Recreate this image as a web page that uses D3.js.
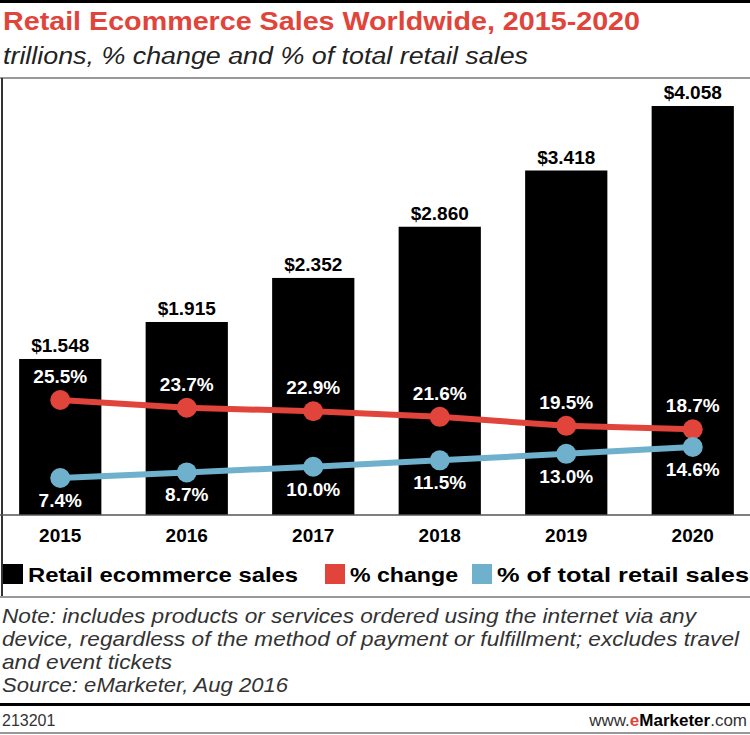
<!DOCTYPE html>
<html><head><meta charset="utf-8">
<script src="https://cdn.jsdelivr.net/npm/d3@7"></script>
<style>body{margin:0;background:#fff}</style>
</head><body>
<script>
const years = ['2015', '2016', '2017', '2018', '2019', '2020'];
const sales = [1.548, 1.915, 2.352, 2.860, 3.418, 4.058];
const pctChange = [25.5, 23.7, 22.9, 21.6, 19.5, 18.7];
const pctTotal = [7.4, 8.7, 10.0, 11.5, 13.0, 14.6];

const w = 750, h = 735;
const svg = d3.select('body').append('svg').attr('width', w).attr('height', h);
const bold = 'Liberation Sans, Arial, sans-serif';
const narrow = 'Liberation Sans, Arial, sans-serif';

// frame lines
svg.append('rect').attr('x', 0).attr('y', 0).attr('width', w).attr('height', 3).attr('fill', '#000');
svg.append('line').attr('x1', 0).attr('x2', w).attr('y1', 78).attr('y2', 78).attr('stroke', '#999').attr('stroke-width', 2);
svg.append('line').attr('x1', 2).attr('x2', 2).attr('y1', 78).attr('y2', 597).attr('stroke', '#333').attr('stroke-width', 2);
svg.append('line').attr('x1', 0).attr('x2', w).attr('y1', 597).attr('y2', 597).attr('stroke', '#999').attr('stroke-width', 2);
svg.append('rect').attr('x', 0).attr('y', 703).attr('width', w).attr('height', 3).attr('fill', '#000');
svg.append('line').attr('x1', 0).attr('x2', w).attr('y1', 733).attr('y2', 733).attr('stroke', '#999').attr('stroke-width', 2);

svg.append('text').attr('x', 3).attr('y', 30).text('Retail Ecommerce Sales Worldwide, 2015-2020')
    .attr('textLength', 637).attr('lengthAdjust', 'spacingAndGlyphs')
    .attr('fill', '#e0443a').style('font', 'bold 25px ' + bold);
svg.append('text').attr('x', 3).attr('y', 64).text('trillions, % change and % of total retail sales')
    .attr('textLength', 525).attr('lengthAdjust', 'spacingAndGlyphs')
    .attr('fill', '#222').style('font', 'italic 23px ' + narrow);

const base = 515;
const x = d3.scaleBand().domain(years).range([-3, 756]).paddingInner(0.35).paddingOuter(0.175);
const y = d3.scaleLinear().domain([0, 4.058]).range([base, 106]);
const yp = d3.scaleLinear().domain([7.4, 25.5]).range([478, 400]);
const cx = d => x(d) + x.bandwidth() / 2;

svg.selectAll('rect.bar').data(years).enter().append('rect').attr('class', 'bar')
    .attr('x', d => x(d)).attr('width', x.bandwidth())
    .attr('y', (d, i) => y(sales[i])).attr('height', (d, i) => base - y(sales[i])).attr('fill', '#000');

svg.selectAll('text.val').data(years).enter().append('text')
    .attr('x', cx).attr('y', (d, i) => y(sales[i]) - 7).attr('text-anchor', 'middle')
    .text((d, i) => '$' + sales[i].toFixed(3)).style('font', 'bold 19px ' + bold);

svg.append('line').attr('x1', 0).attr('x2', w).attr('y1', base).attr('y2', base).attr('stroke', '#555').attr('stroke-width', 1.5);

svg.selectAll('text.yr').data(years).enter().append('text')
    .attr('x', cx).attr('y', 542).attr('text-anchor', 'middle').text(d => d)
    .style('font', 'bold 19px ' + bold);

function series(vals, color, dy) {
    const line = d3.line().x((d, i) => cx(years[i])).y(d => yp(d));
    svg.append('path').datum(vals).attr('d', line).attr('fill', 'none').attr('stroke', color).attr('stroke-width', 6);
    svg.selectAll(null).data(vals).enter().append('circle')
        .attr('cx', (d, i) => cx(years[i])).attr('cy', d => yp(d)).attr('r', 10).attr('fill', color);
    svg.selectAll(null).data(vals).enter().append('text')
        .attr('x', (d, i) => cx(years[i])).attr('y', d => yp(d) + dy).attr('text-anchor', 'middle')
        .attr('fill', '#fff').text(d => d.toFixed(1) + '%').style('font', 'bold 19px ' + bold);
}
series(pctChange, '#e0443a', -17);
series(pctTotal, '#6fb0cc', 29);

const legend = [
    { label: 'Retail ecommerce sales', color: '#000', x: 3, len: 270 },
    { label: '% change', color: '#e0443a', x: 325, len: 108 },
    { label: '% of total retail sales', color: '#6fb0cc', x: 472, len: 252 }
];
legend.forEach(l => {
    svg.append('rect').attr('x', l.x).attr('y', 564).attr('width', 20).attr('height', 20).attr('fill', l.color);
    svg.append('text').attr('x', l.x + 25).attr('y', 582).text(l.label)
        .attr('textLength', l.len).attr('lengthAdjust', 'spacingAndGlyphs')
        .style('font', 'bold 21px ' + bold);
});

const notes = ['Note: includes products or services ordered using the internet via any',
    'device, regardless of the method of payment or fulfillment; excludes travel',
    'and event tickets', 'Source: eMarketer, Aug 2016'];
const noteLen = [694, 737, 170, 286];
notes.forEach((t, i) => svg.append('text').attr('x', 2).attr('y', 623 + i * 23).text(t)
    .attr('textLength', noteLen[i]).attr('lengthAdjust', 'spacingAndGlyphs')
    .attr('fill', '#333').style('font', 'italic 21px ' + narrow));

svg.append('text').attr('x', 2).attr('y', 726).text('213201').attr('fill', '#333').style('font', '16px ' + narrow);
const brand = svg.append('text').attr('x', 747).attr('y', 726).attr('text-anchor', 'end')
    .attr('fill', '#333').style('font', '17px ' + narrow);
brand.append('tspan').text('www.');
brand.append('tspan').text('e').attr('fill', '#e0443a').style('font-weight', 'bold');
brand.append('tspan').text('Marketer').style('font-weight', 'bold').attr('fill', '#000');
brand.append('tspan').text('.com');
</script>
</body></html>
